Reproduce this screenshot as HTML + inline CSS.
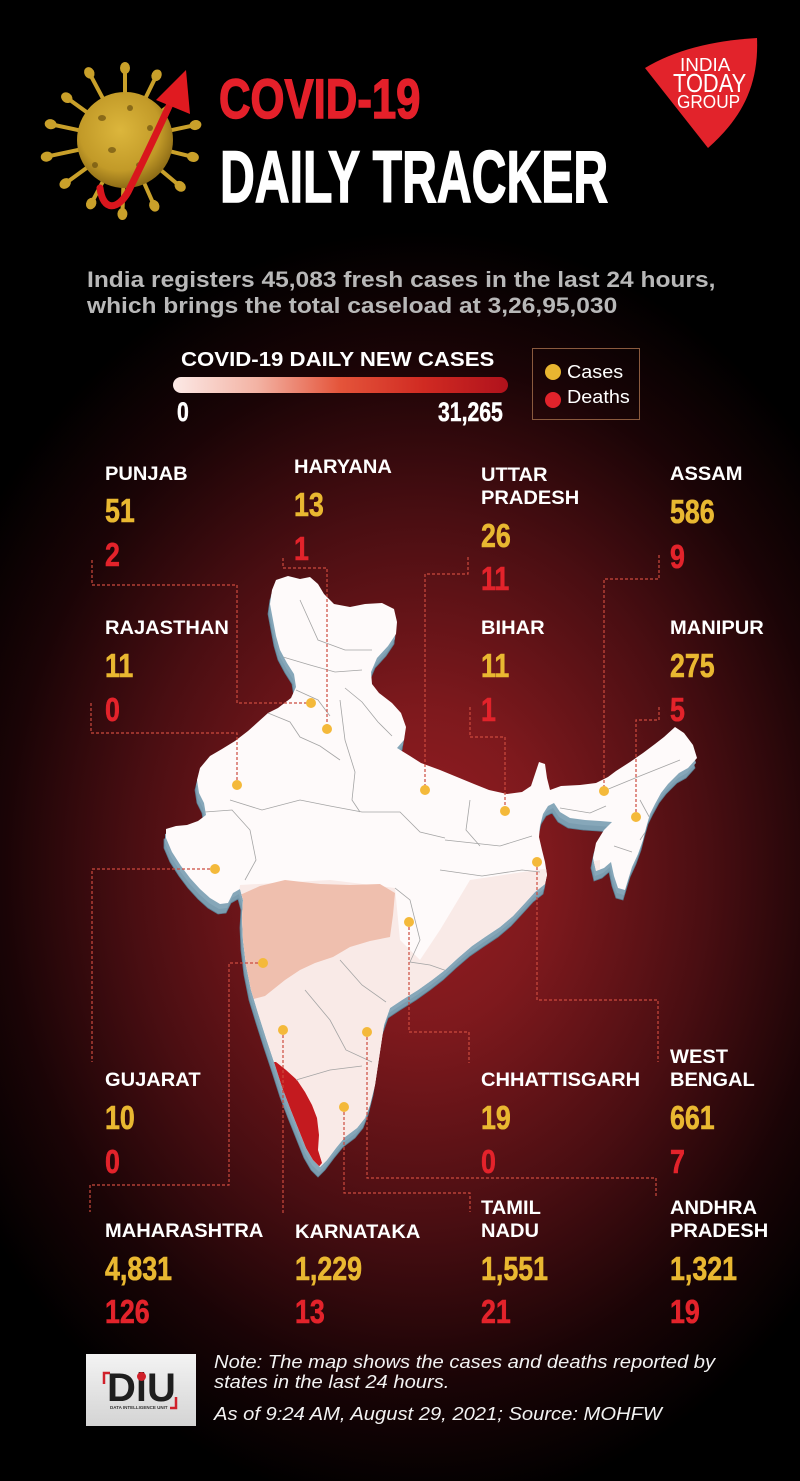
<!DOCTYPE html>
<html><head><meta charset="utf-8">
<style>
*{margin:0;padding:0;box-sizing:border-box}
html,body{width:800px;height:1481px;overflow:hidden;background:#000}
body{position:relative;font-family:"Liberation Sans",Arial,sans-serif;
background:radial-gradient(ellipse 520px 640px at 420px 870px,#981e23 0%,#7e191d 25%,#4a0e12 55%,#1a0406 80%,#000 100%);}
svg.bg{position:absolute;left:0;top:0}
.t{position:absolute;white-space:nowrap;line-height:1;transform-origin:0 0}
.lab{font-weight:bold;font-size:19.5px;color:#fff;transform:scaleX(1.03)}
.num{font-weight:bold;font-size:33.5px;transform:scaleX(0.8);-webkit-text-stroke:0.6px}
.y{color:#e9b831;-webkit-text-stroke-color:#e9b831}
.r{color:#e3232b;-webkit-text-stroke-color:#e3232b}
.note{font-style:italic;font-size:18.5px;color:#f2f2f2;transform:scaleX(1.09)}
</style></head><body>
<svg class="bg" width="800" height="1481" viewBox="0 0 800 1481" xmlns="http://www.w3.org/2000/svg">
<defs>
<radialGradient id="vb" cx="0.45" cy="0.4" r="0.6">
<stop offset="0" stop-color="#dcb63c"/><stop offset="0.7" stop-color="#c29a28"/><stop offset="1" stop-color="#8e6c16"/>
</radialGradient>
<linearGradient id="bar" x1="0" x2="1" y1="0" y2="0">
<stop offset="0" stop-color="#fce9e6"/><stop offset="0.25" stop-color="#f3b3a4"/><stop offset="0.5" stop-color="#e4543a"/><stop offset="0.75" stop-color="#d02a22"/><stop offset="1" stop-color="#b0121c"/>
</linearGradient>
<clipPath id="ind"><polygon id="indp" points="272,590 276,580 288,576 300,579 310,577 318,584 324,594 334,604 350,607 365,604 382,603 394,609 397,622 396,634 388,646 377,658 371,672 372,684 379,693 392,703 401,713 406,727 404,740 397,748 410,756 421,763 440,770 457,777 474,784 489,790 507,794 522,792 531,786 535,774 539,762 545,764 547,778 550,790 561,786 580,785 596,783 608,777 616,771 630,762 643,753 655,744 664,737 675,727 684,733 693,745 697,758 688,768 679,773 668,784 661,793 655,804 650,814 646,828 643,840 638,854 632,867 628,880 625,890 618,888 614,876 611,862 604,868 596,871 593,858 596,843 604,830 612,822 600,821 585,820 570,818 560,812 554,803 548,806 543,814 540,826 539,837 542,850 545,862 547,875 545,884 535,892 525,903 513,916 500,927 485,937 472,946 458,958 445,970 432,980 418,990 402,1000 390,1008 384,1025 381,1045 378,1065 375,1085 370,1105 365,1118 357,1128 345,1137 336,1148 327,1160 320,1167 313,1160 306,1148 298,1128 290,1108 282,1087 274,1062 266,1038 258,1013 251,990 246,965 243,940 242,918 243,900 240,889 233,893 228,903 220,904 210,898 200,889 190,878 181,866 172,852 166,838 166,829 176,826 187,825 198,821 206,815 204,803 199,793 197,780 200,768 210,756 222,749 235,741 248,731 258,722 268,713 278,708 291,698 296,687 294,674 287,663 280,650 276,636 273,620 270,604"/></clipPath>
</defs>

<!-- Virus -->
<g fill="#c9a02a" stroke="#c9a02a">
<g transform="rotate(0 125 140)"><line x1="125" y1="95" x2="125" y2="70" stroke-width="4"/><ellipse cx="125" cy="68" rx="5" ry="6" stroke="none"/></g>
<g transform="rotate(26 125 140)"><line x1="125" y1="95" x2="125" y2="70" stroke-width="4"/><ellipse cx="125" cy="68" rx="5" ry="6" stroke="none"/></g>
<g transform="rotate(52 125 140)"><line x1="125" y1="95" x2="125" y2="72" stroke-width="4"/><ellipse cx="125" cy="70" rx="5" ry="6" stroke="none"/></g>
<g transform="rotate(78 125 140)"><line x1="125" y1="95" x2="125" y2="70" stroke-width="4"/><ellipse cx="125" cy="68" rx="5" ry="6" stroke="none"/></g>
<g transform="rotate(104 125 140)"><line x1="125" y1="95" x2="125" y2="72" stroke-width="4"/><ellipse cx="125" cy="70" rx="5" ry="6" stroke="none"/></g>
<g transform="rotate(130 125 140)"><line x1="125" y1="95" x2="125" y2="70" stroke-width="4"/><ellipse cx="125" cy="68" rx="5" ry="6" stroke="none"/></g>
<g transform="rotate(156 125 140)"><line x1="125" y1="95" x2="125" y2="70" stroke-width="4"/><ellipse cx="125" cy="68" rx="5" ry="6" stroke="none"/></g>
<g transform="rotate(182 125 140)"><line x1="125" y1="95" x2="125" y2="68" stroke-width="4"/><ellipse cx="125" cy="66" rx="5" ry="6" stroke="none"/></g>
<g transform="rotate(208 125 140)"><line x1="125" y1="95" x2="125" y2="70" stroke-width="4"/><ellipse cx="125" cy="68" rx="5" ry="6" stroke="none"/></g>
<g transform="rotate(234 125 140)"><line x1="125" y1="95" x2="125" y2="68" stroke-width="4"/><ellipse cx="125" cy="66" rx="5" ry="6" stroke="none"/></g>
<g transform="rotate(258 125 140)"><line x1="125" y1="95" x2="125" y2="62" stroke-width="4"/><ellipse cx="125" cy="60" rx="5" ry="6" stroke="none"/></g>
<g transform="rotate(282 125 140)"><line x1="125" y1="95" x2="125" y2="66" stroke-width="4"/><ellipse cx="125" cy="64" rx="5" ry="6" stroke="none"/></g>
<g transform="rotate(306 125 140)"><line x1="125" y1="95" x2="125" y2="70" stroke-width="4"/><ellipse cx="125" cy="68" rx="5" ry="6" stroke="none"/></g>
<g transform="rotate(332 125 140)"><line x1="125" y1="95" x2="125" y2="66" stroke-width="4"/><ellipse cx="125" cy="64" rx="5" ry="6" stroke="none"/></g>
</g>
<circle cx="125" cy="140" r="48" fill="url(#vb)"/>
<g fill="#6e5210" opacity="0.7">
<ellipse cx="102" cy="118" rx="4" ry="3"/><ellipse cx="130" cy="108" rx="3" ry="3"/><ellipse cx="112" cy="150" rx="4" ry="3"/>
<ellipse cx="140" cy="165" rx="4" ry="3"/><ellipse cx="95" cy="165" rx="3" ry="3"/><ellipse cx="150" cy="128" rx="3" ry="3"/>
</g>
<path d="M100,188 C103,212 118,210 128,192 C144,160 158,130 170,104" stroke="#d9161d" stroke-width="7" fill="none" stroke-linecap="round"/>
<polygon points="186,70 190,114 156,100" fill="#e01a20"/>

<!-- India Today logo -->
<path d="M645,68 Q688,42 757,38 C759,85 742,118 708,148 Z" fill="#e2232b"/>

<!-- legend bar -->
<rect x="173" y="377" width="335" height="16" rx="8" fill="url(#bar)"/>
<rect x="532.5" y="348.5" width="107" height="71" fill="none" stroke="#8a5a3e" stroke-width="1"/>
<circle cx="553" cy="372" r="8" fill="#e8b530"/>
<circle cx="553" cy="400" r="8" fill="#e0232b"/>

<!-- Map extrusion -->
<use href="#indp" transform="translate(-2,10)" fill="#7b9db0" stroke="#5c7e92" stroke-width="0.8"/>
<use href="#indp" transform="translate(-1,5)" fill="#86a7b9"/>
<!-- Map base -->
<use href="#indp" fill="#fefafa"/>
<g clip-path="url(#ind)">
<polygon points="240,885 330,880 395,888 400,940 420,960 440,930 470,880 550,868 600,860 600,1200 200,1200" fill="#f9eae7"/>
<polygon points="240,895 260,886 285,880 320,884 350,885 380,884 395,893 393,915 390,937 370,941 350,947 333,957 315,963 300,970 285,980 265,996 250,1000 236,960" fill="#efbfae"/>
<polygon points="276,1062 286,1070 297,1080 305,1092 312,1105 317,1118 319,1135 318,1150 322,1163 316,1170 305,1150 296,1128 288,1108 280,1085 268,1062" fill="#c41a1f"/>
<g fill="none" stroke="#a4a4a4" stroke-width="0.8">
<polyline points="300,600 318,640 345,650 372,650"/>
<polyline points="283,657 310,665 335,672 362,670"/>
<polyline points="296,690 318,700 330,716"/>
<polyline points="345,688 362,702 378,722 392,736"/>
<polyline points="268,713 290,722 300,737 320,746 340,760"/>
<polyline points="340,700 345,740 355,772 352,800 360,812"/>
<polyline points="205,812 232,810 250,830 256,860 245,880"/>
<polyline points="230,800 262,810 300,800 330,806 362,812 400,812 420,832 445,838"/>
<polyline points="470,800 466,830 480,846"/>
<polyline points="445,840 500,846 532,836"/>
<polyline points="440,870 482,876 522,870 540,872"/>
<polyline points="395,888 410,900 420,940 410,962 430,965 450,972"/>
<polyline points="340,960 362,985 386,1002"/>
<polyline points="305,990 330,1020 346,1050 372,1062"/>
<polyline points="296,1080 330,1070 362,1066"/>
<polyline points="560,808 590,813 606,806"/>
<polyline points="606,790 640,776 680,760"/>
<polyline points="640,800 652,822 640,840"/>
<polyline points="614,846 632,852"/>
</g>
</g>

<!-- dashed leader lines -->
<g fill="none" stroke="#cc4a3e" stroke-width="1.2" stroke-dasharray="3 2">
<polyline points="92,560 92,585 237,585 237,703 311,703"/>
<polyline points="283,558 283,568 327,568 327,729"/>
<polyline points="468,557 468,574 425,574 425,790"/>
<polyline points="659,555 659,579 604,579 604,791"/>
<polyline points="91,703 91,733 237,733 237,785"/>
<polyline points="470,707 470,737 505,737 505,811"/>
<polyline points="659,707 659,720 636,720 636,817"/>
<polyline points="215,869 92,869 92,1062"/>
<polyline points="263,963 229,963 229,1185 90,1185 90,1212"/>
<polyline points="283,1030 283,1213"/>
<polyline points="409,922 409,1032 469,1032 469,1063"/>
<polyline points="537,862 537,1000 658,1000 658,1062"/>
<polyline points="344,1107 344,1193 470,1193 470,1212"/>
<polyline points="367,1032 367,1178 656,1178 656,1197"/>
</g>
<g fill="#f4b93a">
<circle cx="311" cy="703" r="5"/><circle cx="327" cy="729" r="5"/><circle cx="425" cy="790" r="5"/>
<circle cx="604" cy="791" r="5"/><circle cx="237" cy="785" r="5"/><circle cx="505" cy="811" r="5"/>
<circle cx="636" cy="817" r="5"/><circle cx="215" cy="869" r="5"/><circle cx="263" cy="963" r="5"/>
<circle cx="283" cy="1030" r="5"/><circle cx="409" cy="922" r="5"/><circle cx="537" cy="862" r="5"/>
<circle cx="344" cy="1107" r="5"/><circle cx="367" cy="1032" r="5"/>
</g>

<!-- DiU logo -->
<defs><linearGradient id="dg" x1="0" y1="0" x2="0" y2="1"><stop offset="0" stop-color="#f3f3f3"/><stop offset="1" stop-color="#d4d4d4"/></linearGradient></defs>
<rect x="86" y="1354" width="110" height="72" fill="url(#dg)"/>
<polyline points="104,1384 104,1373 110,1373" fill="none" stroke="#d0202a" stroke-width="2.5"/>
<polyline points="176,1397 176,1408 170,1408" fill="none" stroke="#d0202a" stroke-width="2.5"/>
</svg>

<!-- Header -->
<div class="t" style="left:219px;top:71.4px;font-size:56px;font-weight:bold;color:#e4202a;-webkit-text-stroke:1.5px #e4202a;transform:scaleX(0.78)">COVID-19</div>
<div class="t" style="left:220px;top:141.4px;font-size:73px;font-weight:bold;color:#fff;-webkit-text-stroke:1.5px #fff;transform:scaleX(0.66)">DAILY TRACKER</div>

<div class="t" style="left:680px;top:55.9px;font-size:18px;color:#fff;transform:scaleX(1.05)">INDIA</div>
<div class="t" style="left:673px;top:70px;font-size:26px;color:#fff;transform:scaleX(0.84)">TODAY</div>
<div class="t" style="left:677px;top:92.8px;font-size:18.5px;color:#fff;transform:scaleX(0.93)">GROUP</div>

<div class="t" style="left:87px;top:269.4px;font-size:22.5px;font-weight:bold;color:#b8b8b8;transform:scaleX(1.09)">India registers 45,083 fresh cases in the last 24 hours,</div>
<div class="t" style="left:87px;top:295.4px;font-size:22.5px;font-weight:bold;color:#b8b8b8;transform:scaleX(1.09)">which brings the total caseload at 3,26,95,030</div>

<div class="t" style="left:181px;top:349.6px;font-size:20px;font-weight:bold;color:#fff;transform:scaleX(1.11)">COVID-19 DAILY NEW CASES</div>
<div class="t" style="left:177px;top:398.9px;font-size:26.5px;font-weight:bold;color:#fff;transform:scaleX(0.8);-webkit-text-stroke:0.5px #fff">0</div>
<div class="t" style="left:438px;top:398.9px;font-size:26.5px;font-weight:bold;color:#fff;transform:scaleX(0.8);-webkit-text-stroke:0.5px #fff">31,265</div>
<div class="t" style="left:567px;top:362.9px;font-size:18px;color:#fff;transform:scaleX(1.1)">Cases</div>
<div class="t" style="left:567px;top:387.9px;font-size:18px;color:#fff;transform:scaleX(1.1)">Deaths</div>

<!-- Row 1 -->
<div class="t lab" style="left:105px;top:464.7px">PUNJAB</div>
<div class="t num y" style="left:105px;top:495px">51</div>
<div class="t num r" style="left:105px;top:539px">2</div>

<div class="t lab" style="left:294px;top:457.7px">HARYANA</div>
<div class="t num y" style="left:294px;top:489px">13</div>
<div class="t num r" style="left:294px;top:533px">1</div>

<div class="t lab" style="left:481px;top:465.7px">UTTAR</div>
<div class="t lab" style="left:481px;top:488.7px">PRADESH</div>
<div class="t num y" style="left:481px;top:520px">26</div>
<div class="t num r" style="left:481px;top:563px">11</div>

<div class="t lab" style="left:670px;top:464.7px">ASSAM</div>
<div class="t num y" style="left:670px;top:496px">586</div>
<div class="t num r" style="left:670px;top:541px">9</div>

<!-- Row 2 -->
<div class="t lab" style="left:105px;top:618.7px">RAJASTHAN</div>
<div class="t num y" style="left:105px;top:650px">11</div>
<div class="t num r" style="left:105px;top:694px">0</div>

<div class="t lab" style="left:481px;top:618.7px">BIHAR</div>
<div class="t num y" style="left:481px;top:650px">11</div>
<div class="t num r" style="left:481px;top:694px">1</div>

<div class="t lab" style="left:670px;top:618.7px">MANIPUR</div>
<div class="t num y" style="left:670px;top:650px">275</div>
<div class="t num r" style="left:670px;top:694px">5</div>

<!-- Row 3 -->
<div class="t lab" style="left:105px;top:1070.7px">GUJARAT</div>
<div class="t num y" style="left:105px;top:1102px">10</div>
<div class="t num r" style="left:105px;top:1146px">0</div>

<div class="t lab" style="left:481px;top:1070.7px">CHHATTISGARH</div>
<div class="t num y" style="left:481px;top:1102px">19</div>
<div class="t num r" style="left:481px;top:1146px">0</div>

<div class="t lab" style="left:670px;top:1047.7px">WEST</div>
<div class="t lab" style="left:670px;top:1070.7px">BENGAL</div>
<div class="t num y" style="left:670px;top:1102px">661</div>
<div class="t num r" style="left:670px;top:1146px">7</div>

<!-- Row 4 -->
<div class="t lab" style="left:105px;top:1221.7px">MAHARASHTRA</div>
<div class="t num y" style="left:105px;top:1253px">4,831</div>
<div class="t num r" style="left:105px;top:1296px">126</div>

<div class="t lab" style="left:295px;top:1222.7px">KARNATAKA</div>
<div class="t num y" style="left:295px;top:1253px">1,229</div>
<div class="t num r" style="left:295px;top:1296px">13</div>

<div class="t lab" style="left:481px;top:1198.7px">TAMIL</div>
<div class="t lab" style="left:481px;top:1221.7px">NADU</div>
<div class="t num y" style="left:481px;top:1253px">1,551</div>
<div class="t num r" style="left:481px;top:1296px">21</div>

<div class="t lab" style="left:670px;top:1198.7px">ANDHRA</div>
<div class="t lab" style="left:670px;top:1221.7px">PRADESH</div>
<div class="t num y" style="left:670px;top:1253px">1,321</div>
<div class="t num r" style="left:670px;top:1296px">19</div>

<!-- Footer -->
<div class="t" style="left:107px;top:1368.3px;font-size:40px;font-weight:bold;color:#1e1e1e">DiU</div>
<div style="position:absolute;left:137px;top:1372px;width:9px;height:9px;border-radius:50%;background:#d0202a"></div>
<div class="t" style="left:110px;top:1406px;font-size:4.5px;font-weight:bold;color:#333">DATA INTELLIGENCE UNIT</div>

<div class="t note" style="left:214px;top:1352.8px">Note: The map shows the cases and deaths reported by</div>
<div class="t note" style="left:214px;top:1372.8px">states in the last 24 hours.</div>
<div class="t note" style="left:214px;top:1404.8px">As of 9:24 AM, August 29, 2021; Source: MOHFW</div>
</body></html>
